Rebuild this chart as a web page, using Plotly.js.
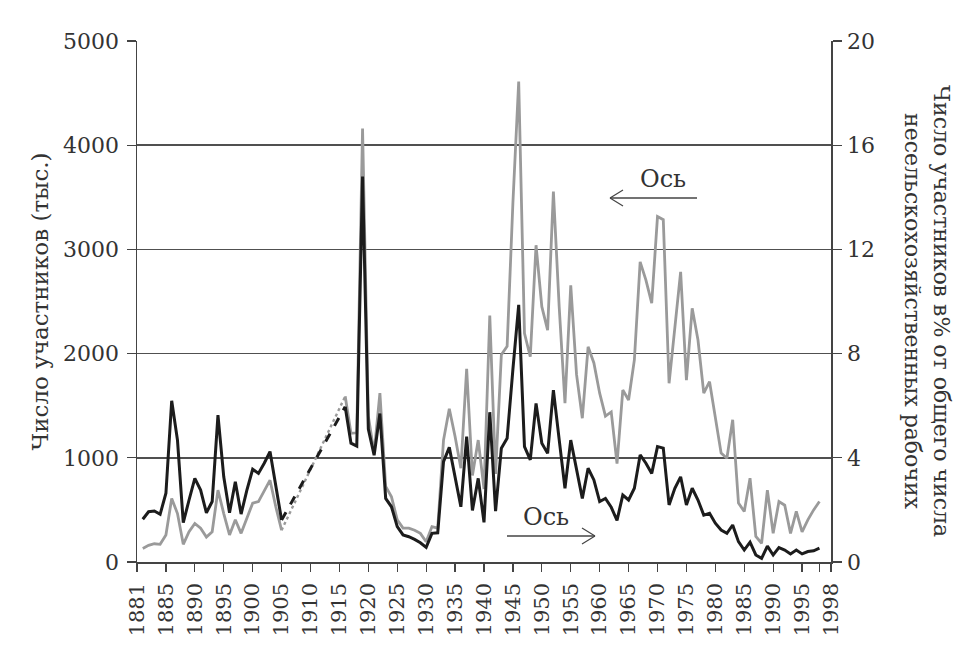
<!DOCTYPE html>
<html>
<head>
<meta charset="utf-8">
<script src="https://cdn.plot.ly/plotly-3.0.1.min.js"></script>
<style>html,body{margin:0;padding:0;background:#fff;}#chart{width:961px;height:657px;}</style>
</head>
<body>
<div id="chart"></div>
<script>
// Years with data (gap 1906-1915 is bridged by a dashed connector)
const yearsEarly = [1881,1882,1883,1884,1885,1886,1887,1888,1889,1890,1891,1892,1893,1894,1895,1896,1897,1898,1899,1900,1901,1902,1903,1904,1905];
const yearsLate = [1916,1917,1918,1919,1920,1921,1922,1923,1924,1925,1926,1927,1928,1929,1930,1931,1932,1933,1934,1935,1936,1937,1938,1939,1940,1941,1942,1943,1944,1945,1946,1947,1948,1949,1950,1951,1952,1953,1954,1955,1956,1957,1958,1959,1960,1961,1962,1963,1964,1965,1966,1967,1968,1969,1970,1971,1972,1973,1974,1975,1976,1977,1978,1979,1980,1981,1982,1983,1984,1985,1986,1987,1988,1989,1990,1991,1992,1993,1994,1995,1996,1997,1998];

// Strike participants, thousands (left axis, grey line)
const participantsEarly = [130,160,175,170,260,610,465,170,290,370,325,240,290,690,465,260,405,275,420,565,580,690,785,530,305];
const participantsLate = [1590,1235,1240,4160,1400,1045,1620,725,625,405,325,325,305,275,195,340,325,1170,1470,1205,900,1855,830,1170,700,2365,845,1990,2070,3450,4610,2195,1970,3040,2450,2225,3555,2450,1525,2655,1800,1380,2065,1910,1620,1400,1440,945,1650,1555,1940,2880,2705,2485,3315,3285,1715,2250,2785,1745,2435,2130,1620,1730,1395,1045,995,1365,565,485,805,245,180,690,275,580,545,275,485,290,405,500,580];

// Participants as % of non-agricultural workers (right axis, black line)
const shareEarly = [1.64,1.93,1.96,1.83,2.64,6.19,4.68,1.51,2.38,3.21,2.76,1.89,2.32,5.64,3.27,1.89,3.08,1.84,2.76,3.56,3.40,3.79,4.24,2.89,1.61];
const shareLate = [5.96,4.56,4.45,14.8,5.1,4.1,5.7,2.44,2.12,1.36,1.04,0.97,0.87,0.74,0.56,1.1,1.12,3.85,4.4,3.27,2.12,4.81,1.98,3.21,1.52,5.75,1.95,4.37,4.75,7.4,9.87,4.43,3.92,6.09,4.56,4.17,6.6,4.7,2.83,4.68,3.53,2.44,3.6,3.15,2.32,2.44,2.1,1.6,2.57,2.38,2.83,4.11,3.79,3.4,4.43,4.37,2.19,2.83,3.27,2.19,2.83,2.38,1.8,1.87,1.49,1.23,1.1,1.42,0.78,0.46,0.76,0.27,0.14,0.61,0.27,0.55,0.46,0.31,0.46,0.31,0.4,0.43,0.53];

// Axis ticks
const xTickVals = [1880,1885,1890,1895,1900,1905,1910,1915,1920,1925,1930,1935,1940,1945,1950,1955,1960,1965,1970,1975,1980,1985,1990,1995,2000,1998];
const xTickText = ['1881','1885','1890','1895','1900','1905','1910','1915','1920','1925','1930','1935','1940','1945','1950','1955','1960','1965','1970','1975','1980','1985','1990','1995','1998',''];
const leftTicks = [0,1000,2000,3000,4000,5000];
const rightTicks = [0,4,8,12,16,20];

const FONT = 'DejaVu Serif, Liberation Serif, serif';
const TXT = '#333333';
const GREY = '#9a9a9a';
const BLACK = '#1c1c1c';

const lastE = arr => arr[arr.length - 1];

const traces = [
  {x: yearsEarly, y: participantsEarly, yaxis: 'y', mode: 'lines', line: {color: GREY, width: 2.8}, hoverinfo: 'skip'},
  {x: [lastE(yearsEarly), yearsLate[0]], y: [lastE(participantsEarly), participantsLate[0]], yaxis: 'y', mode: 'lines', line: {color: GREY, width: 2.4, dash: 'dot'}, hoverinfo: 'skip'},
  {x: yearsLate, y: participantsLate, yaxis: 'y', mode: 'lines', line: {color: GREY, width: 2.8}, hoverinfo: 'skip'},
  {x: yearsEarly, y: shareEarly, yaxis: 'y2', mode: 'lines', line: {color: BLACK, width: 3}, hoverinfo: 'skip'},
  {x: [lastE(yearsEarly), yearsLate[0]], y: [lastE(shareEarly), shareLate[0]], yaxis: 'y2', mode: 'lines', line: {color: BLACK, width: 3, dash: 'dash'}, hoverinfo: 'skip'},
  {x: yearsLate, y: shareLate, yaxis: 'y2', mode: 'lines', line: {color: BLACK, width: 3}, hoverinfo: 'skip'}
];

// pixel -> paper helpers for the hand-drawn "axis" arrows
const L = 137, T = 41, W = 694, H = 521;
const px = x => (x - L) / W;
const py = y => (T + H - y) / H;
const seg = (x1, y1, x2, y2) => ({type: 'line', xref: 'paper', yref: 'paper', x0: px(x1), y0: py(y1), x1: px(x2), y1: py(y2), line: {color: '#444', width: 1.3}});

const layout = {
  width: 961, height: 657,
  margin: {l: L, r: 961 - L - W, t: T, b: 657 - T - H},
  paper_bgcolor: '#ffffff', plot_bgcolor: '#ffffff',
  showlegend: false,
  font: {family: FONT, color: TXT, size: 20},
  xaxis: {
    range: [1880, 2000], tickmode: 'array', tickvals: xTickVals, ticktext: xTickText,
    tickangle: -90, ticks: 'outside', ticklen: 8, tickcolor: '#444', tickwidth: 1.3,
    showgrid: false, zeroline: false, showline: true, linecolor: '#444', linewidth: 1.5,
    tickfont: {family: FONT, size: 21, color: TXT}, ticklabelstandoff: 3
  },
  yaxis: {
    range: [0, 5000], tickmode: 'array', tickvals: leftTicks,
    ticks: 'outside', ticklen: 9, tickcolor: '#444', tickwidth: 1.3,
    showgrid: true, gridcolor: '#505050', gridwidth: 1.5, zeroline: false,
    showline: true, linecolor: '#444', linewidth: 1.5,
    tickfont: {family: FONT, size: 22, color: TXT}, ticklabelstandoff: 3,
    title: {text: 'Число участников (тыс.)', font: {family: FONT, size: 23, color: TXT}, standoff: 8}
  },
  yaxis2: {
    range: [0, 20], tickmode: 'array', tickvals: rightTicks, overlaying: 'y', side: 'right',
    ticks: 'outside', ticklen: 9, tickcolor: '#444', tickwidth: 1.3,
    showgrid: false, zeroline: false, showline: true, linecolor: '#444', linewidth: 1.5,
    tickfont: {family: FONT, size: 22, color: TXT}, ticklabelstandoff: 1
  },
  shapes: [
    seg(507, 536, 595, 536), seg(595, 536, 582, 528), seg(595, 536, 582, 544),
    seg(697, 198, 610, 198), seg(610, 198, 623, 190), seg(610, 198, 623, 206)
  ],
  annotations: [
    {xref: 'paper', yref: 'paper', x: px(546), y: py(517), xanchor: 'center', yanchor: 'middle', text: 'Ось', showarrow: false, font: {family: FONT, size: 24, color: TXT}},
    {xref: 'paper', yref: 'paper', x: px(663), y: py(179), xanchor: 'center', yanchor: 'middle', text: 'Ось', showarrow: false, font: {family: FONT, size: 24, color: TXT}},
    {xref: 'paper', yref: 'paper', x: px(927), y: py(311), xanchor: 'center', yanchor: 'middle', textangle: 90, showarrow: false,
     text: 'Число участников в% от общего числа<br>несельскохозяйственных рабочих',
     font: {family: FONT, size: 22, color: TXT}}
  ]
};

Plotly.newPlot('chart', traces, layout, {staticPlot: true, displayModeBar: false});
</script>
</body>
</html>
